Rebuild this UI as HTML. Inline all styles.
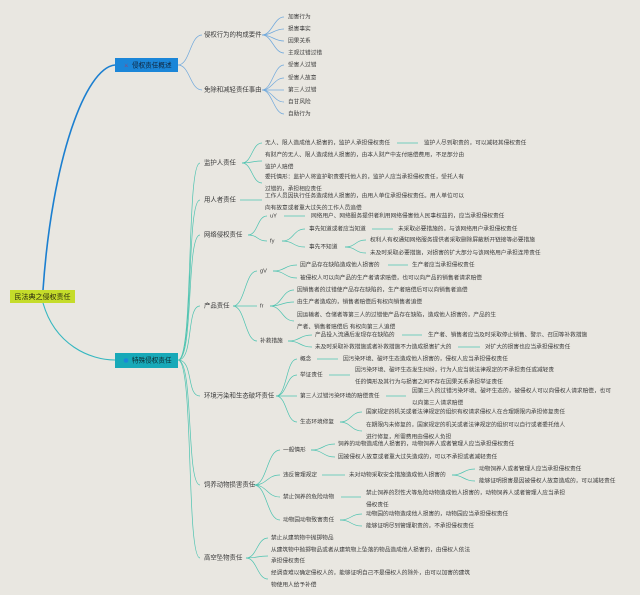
<!DOCTYPE html>
<html><head><meta charset="utf-8"><style>
html,body{margin:0;padding:0;background:#e9e7e1;}
svg{display:block;}
text{font-family:"Liberation Sans","Noto Sans CJK SC",sans-serif;fill:#3a3a3a;dominant-baseline:middle;}
.l{font-size:5.7px;}
.m{font-size:6.4px;}
.b path,.b line{stroke:#6fa8dc;fill:none;stroke-width:0.7;}
.t path,.t line{stroke:#4cc3b0;fill:none;stroke-width:0.7;}
</style></head><body>
<svg width="640" height="595" viewBox="0 0 640 595" xmlns="http://www.w3.org/2000/svg">
<rect width="640" height="595" fill="#e9e7e1"/>
<!-- main branches -->
<path d="M43,290 C52,160 85,68 115,65" stroke="#1b7fd0" stroke-width="1.6" fill="none"/>
<path d="M43,303 C55,345 90,360 115,360" stroke="#35b7c0" stroke-width="1.1" fill="none"/>
<rect x="10" y="290" width="65" height="13" fill="#c5dc2a"/>
<text x="42.5" y="297" font-size="7" text-anchor="middle" style="fill:#2b2b10">民法典之侵权责任</text>
<rect x="115" y="58" width="63" height="14" fill="#1b86d8"/>
<text x="124" y="65.5" font-size="5" style="fill:#c03050">⚔</text>
<text x="132" y="65.5" font-size="6.6" style="fill:#10243a">侵权责任概述</text>
<rect x="115" y="353" width="63" height="15" fill="#17a9b8"/>
<circle cx="126" cy="360.5" r="2.3" fill="#1b86d8"/>
<text x="132" y="360.5" font-size="6.6" style="fill:#0e2a30">特殊侵权责任</text>

<!-- top section -->
<g class="b">
<path d="M178,65 C190,65 190,35 202,35"/>
<path d="M178,65 C190,65 190,90 202,90"/>
<path d="M262,35 C272,35 274,17 284,17"/><path d="M262,35 C272,35 274,29 284,29"/>
<path d="M262,35 C272,35 274,41 284,41"/><path d="M262,35 C272,35 274,53 284,53"/>
<path d="M262,90 C272,90 274,65 284,65"/><path d="M262,90 C272,90 274,78 284,78"/>
<path d="M262,90 C272,90 274,90 284,90"/><path d="M262,90 C272,90 274,102 284,102"/>
<path d="M262,90 C272,90 274,114 284,114"/>
</g>
<text class="m" x="204" y="35">侵权行为的构成要件</text>
<text class="m" x="204" y="90">免除和减轻责任事由</text>
<text class="l" x="288" y="17">加害行为</text>
<text class="l" x="288" y="29">损害事实</text>
<text class="l" x="288" y="41">因果关系</text>
<text class="l" x="288" y="53">主观过错过错</text>
<text class="l" x="288" y="65">受害人过错</text>
<text class="l" x="288" y="78">受害人故意</text>
<text class="l" x="288" y="90">第三人过错</text>
<text class="l" x="288" y="102">自甘风险</text>
<text class="l" x="288" y="114">自助行为</text>

<!-- bottom section connectors -->
<g class="t">
<path d="M178,360 C194,360 186,163 200,163"/>
<path d="M178,360 C194,360 186,200 200,200"/>
<path d="M178,360 C194,360 186,235 200,235"/>
<path d="M178,360 C194,360 186,306 200,306"/>
<path d="M178,360 C194,360 186,396 200,396"/>
<path d="M178,360 C194,360 186,485 200,485"/>
<path d="M178,360 C194,360 186,558 200,558"/>

<path d="M242,163 C252,163 252,143 262,143"/><path d="M242,163 C252,163 252,161 262,161"/>
<path d="M242,163 C252,163 252,183 262,183"/>
<line x1="397" y1="143" x2="418" y2="143"/>
<line x1="240" y1="200" x2="262" y2="200"/>
<path d="M248,235 C258,235 257,216 267,216"/><path d="M248,235 C258,235 257,241 267,241"/>
<line x1="284" y1="216" x2="305" y2="216"/>
<path d="M282,241 C294,241 293,229 305,229"/><path d="M282,241 C294,241 293,247 305,247"/>
<line x1="372" y1="229" x2="393" y2="229"/>
<path d="M345,247 C356,247 355,240 366,240"/><path d="M345,247 C356,247 355,253 366,253"/>

<path d="M233,306 C245,306 245,271 257,271"/><path d="M233,306 C245,306 245,306 257,306"/>
<path d="M233,306 C245,306 245,341 257,341"/>
<path d="M273,271 C285,271 285,265 297,265"/><path d="M273,271 C285,271 285,278 297,278"/>
<line x1="388" y1="265" x2="408" y2="265"/>
<path d="M270,306 C282,306 282,290 294,290"/><path d="M270,306 C282,306 282,302 294,302"/>
<path d="M270,306 C282,306 282,321 294,321"/>
<path d="M288,341 C300,341 300,335 312,335"/><path d="M288,341 C300,341 300,347 312,347"/>
<line x1="402" y1="335" x2="422" y2="335"/>
<line x1="458" y1="347" x2="480" y2="347"/>

<path d="M276,396 C287,396 286,359 297,359"/><path d="M276,396 C287,396 286,375 297,375"/>
<path d="M276,396 C287,396 286,396 297,396"/><path d="M276,396 C287,396 286,422 297,422"/>
<line x1="317" y1="359" x2="338" y2="359"/>
<line x1="329" y1="375" x2="350" y2="375"/>
<line x1="386" y1="396" x2="406" y2="396"/>
<path d="M340,422 C351,422 351,412 362,412"/><path d="M340,422 C351,422 351,431 362,431"/>

<path d="M254,485 C267,485 267,450 280,450"/><path d="M254,485 C267,485 267,475 280,475"/>
<path d="M254,485 C267,485 267,497 280,497"/><path d="M254,485 C267,485 267,520 280,520"/>
<path d="M311,450 C323,450 323,444 335,444"/><path d="M311,450 C323,450 323,457 335,457"/>
<line x1="322" y1="475" x2="345" y2="475"/>
<path d="M452,475 C463,475 464,469 475,469"/><path d="M452,475 C463,475 464,481 475,481"/>
<line x1="341" y1="497" x2="361" y2="497"/>
<path d="M340,520 C351,520 351,514 362,514"/><path d="M340,520 C351,520 351,526 362,526"/>

<path d="M246,558 C257,558 257,538 268,538"/><path d="M246,558 C257,558 257,556 268,556"/>
<path d="M246,558 C257,558 257,579 268,579"/>
</g>

<!-- level 2 -->
<text class="m" x="204" y="163">监护人责任</text>
<text class="m" x="204" y="200">用人者责任</text>
<text class="m" x="204" y="235">网络侵权责任</text>
<text class="m" x="204" y="306">产品责任</text>
<text class="m" x="204" y="396">环境污染和生态破坏责任</text>
<text class="m" x="204" y="485">饲养动物损害责任</text>
<text class="m" x="204" y="558">高空坠物责任</text>

<!-- 监护人 -->
<text class="l" x="265" y="143">无人、限人造成他人损害的，监护人承担侵权责任</text>
<text class="l" x="424" y="143">监护人尽到职责的，可以减轻其侵权责任</text>
<text class="l" x="265" y="155">有财产的无人、限人造成他人损害的，由本人财产中支付赔偿费用，不足部分由</text>
<text class="l" x="265" y="167">监护人赔偿</text>
<text class="l" x="265" y="177">委托情形：监护人将监护职责委托他人的，监护人应当承担侵权责任，受托人有</text>
<text class="l" x="265" y="189">过错的，承担相应责任</text>
<text class="l" x="265" y="196">工作人员因执行任务造成他人损害的，由用人单位承担侵权责任。用人单位可以</text>
<text class="l" x="265" y="208">向有故意或者重大过失的工作人员追偿</text>
<!-- 网络 -->
<text class="l" x="270" y="216">uY</text>
<text class="l" x="311" y="216">网络用户、网络服务提供者利用网络侵害他人民事权益的，应当承担侵权责任</text>
<text class="l" x="270" y="241">fy</text>
<text class="l" x="309" y="229">事先知道或者应当知道</text>
<text class="l" x="398" y="229">未采取必要措施的，与该网络用户承担侵权责任</text>
<text class="l" x="309" y="247">事先不知道</text>
<text class="l" x="370" y="240">权利人有权通知网络服务提供者采取删除屏蔽断开链接等必要措施</text>
<text class="l" x="370" y="253">未及时采取必要措施，对损害的扩大部分与该网络用户承担连带责任</text>
<!-- 产品 -->
<text class="l" x="260" y="271">gV</text>
<text class="l" x="300" y="265">因产品存在缺陷造成他人损害的</text>
<text class="l" x="412" y="265">生产者应当承担侵权责任</text>
<text class="l" x="300" y="278">被侵权人可以向产品的生产者请求赔偿，也可以向产品的销售者请求赔偿</text>
<text class="l" x="260" y="306">fr</text>
<text class="l" x="297" y="290">因销售者的过错使产品存在缺陷的，生产者赔偿后可以向销售者追偿</text>
<text class="l" x="297" y="302">由生产者造成的，销售者赔偿后有权向销售者追偿</text>
<text class="l" x="297" y="315">因运输者、仓储者等第三人的过错使产品存在缺陷，造成他人损害的，产品的生</text>
<text class="l" x="297" y="327">产者、销售者赔偿后 有权向第三人追偿</text>
<text class="l" x="260" y="341">补救措施</text>
<text class="l" x="315" y="335">产品投入流通后发现存在缺陷的</text>
<text class="l" x="428" y="335">生产者、销售者应当及时采取停止销售、警示、召回等补救措施</text>
<text class="l" x="315" y="347">未及时采取补救措施或者补救措施不力造成损害扩大的</text>
<text class="l" x="485" y="347">对扩大的损害也应当承担侵权责任</text>
<!-- 环境 -->
<text class="l" x="300" y="359">概念</text>
<text class="l" x="343" y="359">因污染环境、破坏生态造成他人损害的，侵权人应当承担侵权责任</text>
<text class="l" x="300" y="375">举证责任</text>
<text class="l" x="355" y="370">因污染环境、破坏生态发生纠纷，行为人应当就法律规定的不承担责任或减轻责</text>
<text class="l" x="355" y="382">任的情形及其行为与损害之间不存在因果关系承担举证责任</text>
<text class="l" x="300" y="396">第三人过错污染环境的赔偿责任</text>
<text class="l" x="412" y="391">因第三人的过错污染环境、破坏生态的，被侵权人可以向侵权人请求赔偿，也可</text>
<text class="l" x="412" y="403">以向第三人请求赔偿</text>
<text class="l" x="300" y="422">生态环境修复</text>
<text class="l" x="366" y="412">国家规定的机关或者法律规定的组织有权请求侵权人在合理期限内承担修复责任</text>
<text class="l" x="366" y="425">在期限内未修复的，国家规定的机关或者法律规定的组织可以自行或者委托他人</text>
<text class="l" x="366" y="437">进行修复，所需费用由侵权人负担</text>
<!-- 饲养 -->
<text class="l" x="283" y="450">一般情形</text>
<text class="l" x="338" y="444">饲养的动物造成他人损害的，动物饲养人或者管理人应当承担侵权责任</text>
<text class="l" x="338" y="457">因被侵权人故意或者重大过失造成的，可以不承担或者减轻责任</text>
<text class="l" x="283" y="475">违反管理规定</text>
<text class="l" x="349" y="475">未对动物采取安全措施造成他人损害的</text>
<text class="l" x="479" y="469">动物饲养人或者管理人应当承担侵权责任</text>
<text class="l" x="479" y="481">能够证明损害是因被侵权人故意造成的，可以减轻责任</text>
<text class="l" x="283" y="497">禁止饲养的危险动物</text>
<text class="l" x="366" y="493">禁止饲养的烈性犬等危险动物造成他人损害的，动物饲养人或者管理人应当承担</text>
<text class="l" x="366" y="505">侵权责任</text>
<text class="l" x="283" y="520">动物园动物致害责任</text>
<text class="l" x="366" y="514">动物园的动物造成他人损害的，动物园应当承担侵权责任</text>
<text class="l" x="366" y="526">能够证明尽到管理职责的，不承担侵权责任</text>
<!-- 高空 -->
<text class="l" x="271" y="538">禁止从建筑物中抛掷物品</text>
<text class="l" x="271" y="550">从建筑物中抛掷物品或者从建筑物上坠落的物品造成他人损害的，由侵权人依法</text>
<text class="l" x="271" y="561">承担侵权责任</text>
<text class="l" x="271" y="573">经调查难以确定侵权人的，能够证明自己不是侵权人的除外，由可以加害的建筑</text>
<text class="l" x="271" y="585">物使用人给予补偿</text>
</svg>
</body></html>
